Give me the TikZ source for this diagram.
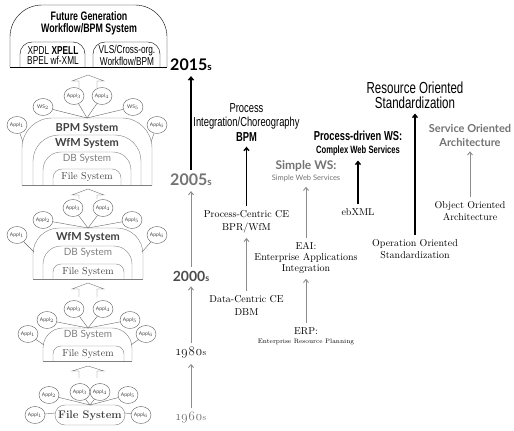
\documentclass[tikz,border=0pt]{standalone}
\usepackage{fontspec}
\newfontfamily\condfont[FakeStretch=0.72]{Liberation Sans}
\newfontfamily\gillfont{Lato}
\newfontfamily\osfont[Numbers=OldStyle]{Latin Modern Roman}
\usetikzlibrary{positioning,shapes.geometric,arrows.meta}

\begin{document}
\begin{tikzpicture}[x=1pt, y=-1pt,
appl/.style={draw=black!65, ellipse, minimum width=20pt, minimum height=17pt, inner sep=0pt, font=\gillfont\fontsize{5}{6}\selectfont, text=black!75},
domeline/.style={draw=black!50},
link/.style={draw=black!60},
hollow/.style={draw=black!55, fill=white},
sysbold/.style={text=black!75, font=\gillfont\bfseries\fontsize{11}{11}\selectfont},
sysdb/.style={text=black!50, font=\gillfont\fontsize{10}{10}\selectfont},
sysfile/.style={text=black!75, font=\fontsize{10}{10}\selectfont},
yearnode/.style={inner sep=0pt, font=\gillfont\bfseries\fontsize{16}{16}\selectfont},
serifnode/.style={inner sep=0pt, align=center, font=\fontsize{10}{13}\selectfont},
condnode/.style={inner sep=0pt, align=center, font=\condfont\fontsize{13}{14.5}\selectfont},
sansnode/.style={inner sep=0pt, align=center, text=black!55, font=\gillfont\bfseries\fontsize{12}{12}\selectfont},
stepup/.style={-{Straight Barb[length=3pt,width=5pt]}, shorten <=4pt, shorten >=5pt, draw=black!45, line width=0.9pt},
bigstep/.style={stepup, draw=black, line width=1.4pt}]
\useasboundingbox (0,0) rectangle (514,431);

% future generation
\draw[rounded corners=32pt] (10,67) -- (10,5) -- (167,5) -- (167,67);
\draw (10,67) -- (167,67);
\draw[rounded corners=12pt] (20,67) -- (20,42) -- (85,42) -- (85,67);
\draw[rounded corners=12pt] (93,67) -- (93,42) -- (160,42) -- (160,67);
\node[condnode, font=\condfont\bfseries\fontsize{12.3}{12}\selectfont] (fut) at (89,23) {Future Generation\\Workflow/BPM System};
\node[condnode, font=\condfont\fontsize{11.5}{10.5}\selectfont] (xpdl) at (53,55.5) {XPDL \textbf{XPELL}\\BPEL wf-XML};
\node[condnode, font=\condfont\fontsize{11.5}{10.5}\selectfont] (vls) at (127,55.5) {VLS/Cross-org.\\Workflow/BPM};
\draw[hollow] (79,88) -- (79,81) -- (72,81) -- (88,75) -- (104,81) -- (97,81) -- (97,88);

% 2005s stack
\node[appl] (b1) at (17,125) {Appl$_1$};
\node[appl] (b2) at (43,107) {WS$_2$};
\node[appl] (b3) at (74,96) {Appl$_3$};
\node[appl] (b4) at (102,96) {Appl$_4$};
\node[appl] (b5) at (133,107) {WS$_5$};
\node[appl] (b6) at (157,125) {Appl$_6$};
\coordinate (t2) at (87,118);
\coordinate (l2) at (23,142);
\coordinate (r2) at (151,142);
\draw[link] (b1) -- (l2);
\draw[link] (b2) -- (t2);
\draw[link] (b3) -- (t2);
\draw[link] (b4) -- (t2);
\draw[link] (b5) -- (t2);
\draw[link] (b6) -- (r2);
\draw[domeline, rounded corners=30pt] (22,185) -- (22,118) -- (152,118) -- (152,185);
\draw[domeline, rounded corners=26pt] (33,185) -- (33,135) -- (141,135) -- (141,185);
\draw[domeline, rounded corners=18pt] (43,185) -- (43,152) -- (131,152) -- (131,185);
\draw[domeline, rounded corners=9pt] (53,185) -- (53,169) -- (121,169) -- (121,185);
\draw[domeline] (22,185) -- (152,185);
\node[sysbold] (bpm2) at (87,128) {BPM System};
\node[sysbold] (wfm2) at (87,143) {WfM System};
\node[sysdb] (db2) at (87,159) {DB System};
\node[sysfile] (fs2) at (87,177) {File System};
\draw[hollow] (79,199) -- (79,195) -- (72,195) -- (88,189) -- (104,195) -- (97,195) -- (97,199);

% 2000s stack
\node[appl] (c1) at (17,235) {Appl$_1$};
\node[appl] (c2) at (43,220) {Appl$_2$};
\node[appl] (c3) at (73,208) {Appl$_3$};
\node[appl] (c4) at (103,208) {Appl$_4$};
\node[appl] (c5) at (132,220) {Appl$_5$};
\node[appl] (c6) at (157,235) {Appl$_6$};
\coordinate (t3) at (88,228);
\coordinate (l3) at (34,252);
\coordinate (r3) at (142,252);
\draw[link] (c1) -- (l3);
\draw[link] (c2) -- (t3);
\draw[link] (c3) -- (t3);
\draw[link] (c4) -- (t3);
\draw[link] (c5) -- (t3);
\draw[link] (c6) -- (r3);
\draw[domeline, rounded corners=26pt] (33,279) -- (33,228) -- (143,228) -- (143,279);
\draw[domeline, rounded corners=18pt] (43,279) -- (43,246) -- (132,246) -- (132,279);
\draw[domeline, rounded corners=8pt] (53,279) -- (53,264) -- (124,264) -- (124,279);
\draw[domeline] (33,279) -- (143,279);
\node[sysbold] (wfm3) at (88,237) {WfM System};
\node[sysdb] (db3) at (88,253) {DB System};
\node[sysfile] (fs3) at (88,272) {File System};
\draw[hollow] (79,297) -- (79,289) -- (72,289) -- (88,283) -- (104,289) -- (97,289) -- (97,297);

% 1980s stack
\node[appl] (d1) at (28,334) {Appl$_1$};
\node[appl] (d2) at (47,320) {Appl$_2$};
\node[appl] (d3) at (74,309) {Appl$_3$};
\node[appl] (d4) at (103,309) {Appl$_4$};
\node[appl] (d5) at (130,320) {Appl$_5$};
\node[appl] (d6) at (146,334) {Appl$_6$};
\coordinate (t4) at (88,328);
\coordinate (l4) at (44,345);
\coordinate (r4) at (131,345);
\draw[link] (d1) -- (l4);
\draw[link] (d2) -- (t4);
\draw[link] (d3) -- (t4);
\draw[link] (d4) -- (t4);
\draw[link] (d5) -- (t4);
\draw[link] (d6) -- (r4);
\draw[domeline, rounded corners=20pt] (43,361) -- (43,328) -- (132,328) -- (132,361);
\draw[domeline, rounded corners=8pt] (53,361) -- (53,346) -- (124,346) -- (124,361);
\draw[domeline] (43,361) -- (132,361);
\node[sysdb] (db4) at (88,335) {DB System};
\node[sysfile] (fs4) at (88,354) {File System};
\draw[hollow] (79,378) -- (79,371) -- (72,371) -- (88,366) -- (104,371) -- (97,371) -- (97,378);

% 1960s stack
\node[appl] (e1) at (35,415) {Appl$_1$};
\node[appl] (e2) at (49,395) {Appl$_2$};
\node[appl] (e3) at (80,392) {Appl$_3$};
\node[appl] (e4) at (100,392) {Appl$_4$};
\node[appl] (e5) at (128,395) {Appl$_5$};
\node[appl] (e6) at (141,415) {Appl$_6$};
\coordinate (t5) at (90,405);
\coordinate (l5) at (55,413);
\coordinate (r5) at (125,413);
\draw[link] (e1) -- (l5);
\draw[link] (e2) -- (t5);
\draw[link] (e3) -- (t5);
\draw[link] (e4) -- (t5);
\draw[link] (e5) -- (t5);
\draw[link] (e6) -- (r5);
\draw[domeline, rounded corners=10pt] (55,425) -- (55,405) -- (125,405) -- (125,425) -- cycle;
\node[sysfile, font=\bfseries\fontsize{11}{11}\selectfont] (fs5) at (90,416) {File System};

% time line
\node[yearnode] (y2015) at (191,65) {2015{\fontsize{10}{10}\selectfont s}};
\node[yearnode, text=black!55] (y2005) at (191,180) {2005{\fontsize{10}{10}\selectfont s}};
\node[yearnode, text=black!70, font=\gillfont\bfseries\fontsize{14}{14}\selectfont] (y2000) at (191,276) {2000{\fontsize{9}{9}\selectfont s}};
\node[inner sep=0pt, text=black!90, font=\osfont\fontsize{13}{13}\selectfont] (y1980) at (191,353) {1980{\fontsize{9}{9}\selectfont s}};
\node[inner sep=0pt, text=black!55, font=\osfont\fontsize{13}{13}\selectfont] (y1960) at (191,418) {1960{\fontsize{9}{9}\selectfont s}};
\draw[stepup] (y1960) -- (y1980);
\draw[stepup] (y1980) -- (y2000);
\draw[stepup] (y2000) -- (y2005);
\draw[bigstep] (y2005) -- (y2015);

% process line
\node[condnode] (pic) at (246.5,122.5) {Process\\Integration/Choreography\\\textbf{BPM}};
\node[serifnode] (pcce) at (246.5,221.5) {Process-Centric CE\\BPR/WfM};
\node[serifnode] (dcce) at (246.5,305) {Data-Centric CE\\DBM};
\draw[stepup] (dcce) -- (pcce);
\draw[bigstep] (pcce) -- (pic);

% web services line
\node[sansnode] (sws) at (306,171) {Simple WS:\\[-1pt]{\gillfont\mdseries\fontsize{7.5}{7.5}\selectfont Simple Web Services}};
\node[serifnode, font=\fontsize{10}{11}\selectfont] (eai) at (306,258) {EAI:\\Enterprise Applications\\Integration};
\node[serifnode, font=\fontsize{10}{9}\selectfont] (erp) at (306,336) {ERP:\\{\fontsize{6.5}{6.5}\selectfont Enterprise Resource Planning}};
\draw[stepup] (erp) -- (eai);
\draw[stepup] (eai) -- (sws);
\node[condnode, font=\condfont\fontsize{13}{13}\selectfont] (pdws) at (358,143) {\textbf{Process-driven WS:}\\{\bfseries\fontsize{10.6}{10.6}\selectfont Complex Web Services}};
\node[serifnode] (ebxml) at (358,212) {ebXML};
\draw[bigstep] (ebxml) -- (pdws);

% standardization line
\node[condnode, font=\condfont\fontsize{16}{15}\selectfont] (roa) at (415,95) {Resource Oriented\\Standardization};
\node[serifnode, font=\fontsize{10}{12}\selectfont] (oos) at (415,249) {Operation Oriented\\Standardization};
\draw[bigstep] (oos) -- (roa);
\node[sansnode, font=\gillfont\bfseries\fontsize{11}{14}\selectfont] (soa) at (470,135) {Service Oriented\\Architecture};
\node[serifnode, font=\fontsize{10}{12}\selectfont] (ooa) at (470,211) {Object Oriented\\Architecture};
\draw[stepup] (ooa) -- (soa);
\end{tikzpicture}
\end{document}
